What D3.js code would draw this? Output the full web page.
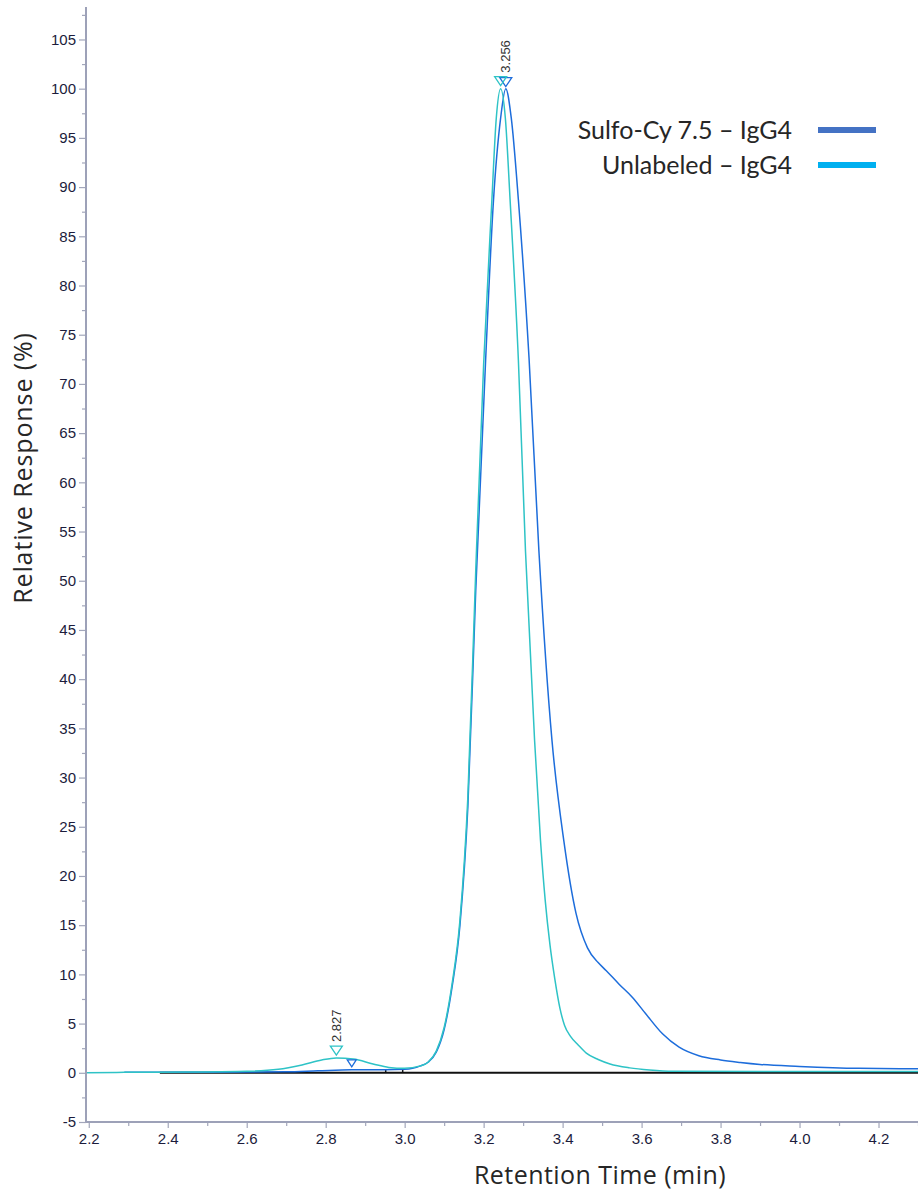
<!DOCTYPE html>
<html>
<head>
<meta charset="utf-8">
<script src="https://cdn.jsdelivr.net/npm/d3@7"></script>
<style>
  body { margin: 0; background: #fff; }
</style>
</head>
<body>
<div id="chart"></div>
<script>
// Unlabeled - IgG4 (teal trace)
const timeUnlabeled = [2.193, 2.29, 2.45, 2.60, 2.68, 2.74, 2.79, 2.827, 2.87, 2.92, 2.96, 3.00, 3.04, 3.06, 3.08, 3.10, 3.12, 3.14, 3.16, 3.18, 3.20, 3.22, 3.232, 3.243, 3.255, 3.267, 3.288, 3.306, 3.329, 3.344, 3.356, 3.368, 3.380, 3.393, 3.405, 3.42, 3.44, 3.46, 3.49, 3.52, 3.57, 3.62, 3.68, 4.30];
const respUnlabeled = [0, 0.05, 0.08, 0.15, 0.35, 0.8, 1.3, 1.5, 1.4, 0.9, 0.55, 0.45, 0.7, 1.1, 2.2, 4.6, 9.0, 15.5, 28, 51, 72, 88, 97, 100, 97, 88.7, 72.4, 53, 33.8, 23.6, 17.5, 13.0, 9.6, 6.6, 4.8, 3.7, 2.8, 2.0, 1.35, 0.9, 0.5, 0.28, 0.15, 0.12];

// Sulfo-Cy 7.5 - IgG4 (blue trace)
const timeSulfo = [2.29, 2.5, 2.7, 2.78, 2.866, 2.95, 3.0, 3.02, 3.04, 3.06, 3.08, 3.10, 3.12, 3.14, 3.16, 3.18, 3.205, 3.225, 3.243, 3.256, 3.270, 3.288, 3.315, 3.340, 3.373, 3.403, 3.434, 3.463, 3.49, 3.51, 3.543, 3.577, 3.611, 3.653, 3.695, 3.745, 3.80, 3.85, 3.90, 4.0, 4.15, 4.30];
const respSulfo = [0.05, 0.05, 0.1, 0.2, 0.3, 0.3, 0.35, 0.45, 0.7, 1.1, 2.1, 4.4, 8.7, 15, 27, 49, 72.4, 88.7, 97, 100, 97, 88.7, 72.6, 53, 33.8, 23.6, 16.2, 12.7, 11.2, 10.4, 9.0, 7.66, 5.97, 3.96, 2.6, 1.73, 1.3, 1.05, 0.85, 0.65, 0.45, 0.4];

// peak markers
const peakTimesUnlabeled = [2.827, 3.243];
const peakRespUnlabeled = [1.5, 100];
const peakTimesSulfo = [2.866, 3.256];
const peakRespSulfo = [0.3, 100];
const peakLabels = [{ t: 2.827, r: 1.5, text: "2.827" }, { t: 3.256, r: 100, text: "3.256" }];

// integration baseline
const baselineTimes = [2.38, 4.30];
const baselineMarks = [2.952, 2.995];

// ticks
const yTicks = d3.range(-5, 106, 5);
const yMinorTicks = d3.range(-2.5, 108, 5);
const xTicks = [2.2, 2.4, 2.6, 2.8, 3.0, 3.2, 3.4, 3.6, 3.8, 4.0, 4.2];
const xMinorTicks = [2.3, 2.5, 2.7, 2.9, 3.1, 3.3, 3.5, 3.7, 3.9, 4.1, 4.3];

const legendNames = ["Sulfo-Cy 7.5 \u2013 IgG4", "Unlabeled \u2013 IgG4"];
const legendColors = ["#4472c4", "#00b0f0"];

const blue = "#1d6ddb";
const teal = "#2ec3c6";

const dims = { width: 918, height: 1194, left: 86, right: 918, top: 7, bottom: 1122 };

const x = d3.scaleLinear().domain([2.193, 4.3]).range([dims.left, dims.right]);
const y = d3.scaleLinear().domain([-5, 108.3]).range([dims.bottom, dims.top]);

const svg = d3.select('#chart')
    .append('svg')
    .attr('width', dims.width)
    .attr('height', dims.height);

svg.append('defs').append('clipPath').attr('id', 'plot')
    .append('rect')
    .attr('x', dims.left).attr('y', 0)
    .attr('width', dims.right - dims.left).attr('height', dims.bottom);

const plot = svg.append('g').attr('clip-path', 'url(#plot)');

// black baseline
plot.append('line')
    .attr('x1', x(baselineTimes[0])).attr('x2', x(baselineTimes[1]))
    .attr('y1', y(0)).attr('y2', y(0))
    .attr('stroke', '#111').attr('stroke-width', 2);

plot.selectAll('.bmark')
    .data(baselineMarks)
    .join('line')
    .attr('x1', d => x(d)).attr('x2', d => x(d))
    .attr('y1', y(0) - 3).attr('y2', y(0))
    .attr('stroke', '#111').attr('stroke-width', 1.5);

const line = d3.line()
    .x(d => x(d[0]))
    .y(d => y(d[1]))
    .curve(d3.curveMonotoneX);

const sulfo = d3.zip(timeSulfo, respSulfo);
const unlabeled = d3.zip(timeUnlabeled, respUnlabeled);

plot.append('path')
    .attr('d', line(sulfo))
    .attr('fill', 'none')
    .attr('stroke', blue)
    .attr('stroke-width', 1.5);

plot.append('path')
    .attr('d', line(unlabeled))
    .attr('fill', 'none')
    .attr('stroke', teal)
    .attr('stroke-width', 1.5);

// triangle markers
function triangle(px, py, w, h) {
    return `M${px - w / 2},${py - h}L${px + w / 2},${py - h}L${px},${py}Z`;
}

plot.selectAll('.tri-s')
    .data(d3.zip(peakTimesSulfo, peakRespSulfo))
    .join('path')
    .attr('d', (d, i) => i === 0 ? triangle(x(d[0]), y(d[1]) - 3, 9, 7) : triangle(x(d[0]), y(d[1]) - 2, 12, 9))
    .attr('fill', 'none')
    .attr('stroke', blue)
    .attr('stroke-width', 1.3);

plot.selectAll('.tri-u')
    .data(d3.zip(peakTimesUnlabeled, peakRespUnlabeled))
    .join('path')
    .attr('d', d => triangle(x(d[0]), y(d[1]) - 3, 12, 9))
    .attr('fill', 'none')
    .attr('stroke', teal)
    .attr('stroke-width', 1.3);

svg.selectAll('.plabel')
    .data(peakLabels)
    .join('text')
    .attr('transform', d => `translate(${x(d.t)}, ${y(d.r) - 16}) rotate(-90)`)
    .attr('dy', '0.35em')
    .attr('font-family', '"Liberation Sans", Arial, sans-serif')
    .attr('font-size', 13)
    .attr('fill', '#333')
    .text(d => d.text);

// axes
svg.append('g')
    .attr('transform', `translate(${dims.left}, 0)`)
    .call(d3.axisLeft(y).tickValues(yTicks).tickSize(7).tickPadding(3).tickFormat(d => String(d)));

svg.append('g')
    .attr('transform', `translate(${dims.left}, 0)`)
    .call(d3.axisLeft(y).tickValues(yMinorTicks).tickSize(4).tickFormat(''));

svg.append('g')
    .attr('transform', `translate(0, ${dims.bottom})`)
    .call(d3.axisBottom(x).tickValues(xTicks).tickSize(6).tickPadding(5).tickFormat(d3.format('.1f')));

svg.append('g')
    .attr('transform', `translate(0, ${dims.bottom})`)
    .call(d3.axisBottom(x).tickValues(xMinorTicks).tickSize(4).tickFormat(''));

svg.selectAll('.domain').remove();
svg.selectAll('.tick line').attr('stroke', '#a3a7bb').attr('stroke-width', 1.2);
svg.selectAll('.tick text')
    .style('font-family', '"Liberation Sans", Arial, sans-serif')
    .style('font-size', '15px')
    .style('fill', '#1c1c3c');

svg.append('line')
    .attr('x1', dims.left).attr('x2', dims.left)
    .attr('y1', dims.top).attr('y2', dims.bottom)
    .attr('stroke', '#9da1b8').attr('stroke-width', 2);

svg.append('line')
    .attr('x1', dims.left).attr('x2', dims.right)
    .attr('y1', dims.bottom).attr('y2', dims.bottom)
    .attr('stroke', '#9da1b8').attr('stroke-width', 2);

// axis titles
svg.append('text')
    .attr('transform', 'translate(32, 468) rotate(-90)')
    .attr('text-anchor', 'middle')
    .attr('font-family', '"Open Sans", sans-serif')
    .attr('font-size', 25)
    .attr('letter-spacing', 0.9)
    .attr('fill', '#262626')
    .text('Relative Response (%)');

svg.append('text')
    .attr('x', 600)
    .attr('y', 1184)
    .attr('text-anchor', 'middle')
    .attr('font-family', '"Open Sans", sans-serif')
    .attr('font-size', 25)
    .attr('letter-spacing', 0.45)
    .attr('fill', '#262626')
    .text('Retention Time (min)');

// legend
const legend = svg.append('g');
legendNames.forEach((name, i) => {
    const ly = 130 + i * 35;
    legend.append('text')
        .attr('x', 792)
        .attr('y', ly)
        .attr('dy', '0.35em')
        .attr('text-anchor', 'end')
        .attr('font-family', 'Lato, sans-serif')
        .attr('font-size', 25)
        .attr('fill', '#262626')
        .text(name);
    legend.append('line')
        .attr('x1', 818).attr('x2', 876)
        .attr('y1', ly).attr('y2', ly)
        .attr('stroke', legendColors[i])
        .attr('stroke-width', 6);
});
</script>
</body>
</html>
